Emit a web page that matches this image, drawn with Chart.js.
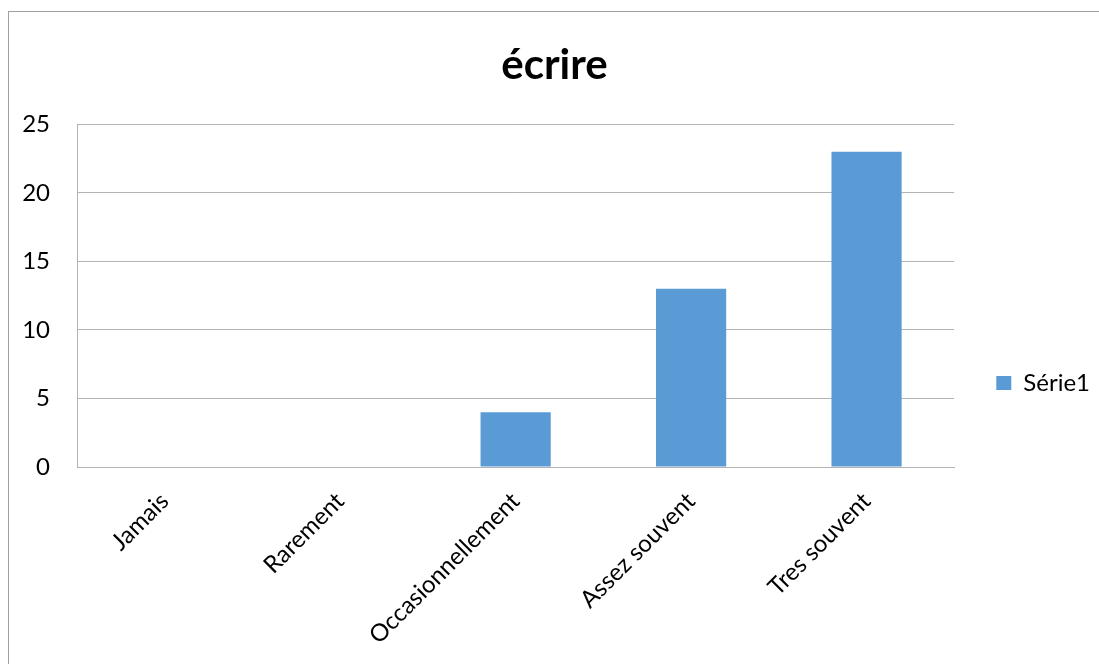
<!DOCTYPE html>
<html lang="fr">
<head>
    <meta charset="UTF-8">
    <title>écrire</title>
    <script src="https://cdn.jsdelivr.net/npm/chart.js"></script>
    <style>
        html, body {
            margin: 0;
            padding: 0;
            background: #fff;
            overflow: hidden;
        }

        .frame {
            position: absolute;
            left: 8px;
            top: 11px;
            width: 1098px;
            height: 742px;
            border: 1px solid #a0a0a0;
        }
    </style>
</head>
<body>
    <div class="frame">
        <canvas id="chart" width="1098" height="742"></canvas>
    </div>

    <script>
        // Données
        const categories = ['Jamais', 'Rarement', 'Occasionnellement', 'Assez souvent', 'Tres souvent'];
        const serie1 = [0, 0, 4, 13, 23];
        const yTicks = [0, 5, 10, 15, 20, 25];

        const gridColor = '#b3b3b3';
        const font = 'Lato, Carlito, Calibri, sans-serif';

        Chart.defaults.font.family = font;
        Chart.defaults.color = '#000';

        new Chart(document.getElementById('chart'), {
            type: 'bar',
            data: {
                labels: categories,
                datasets: [{
                    label: 'Série1',
                    data: serie1,
                    backgroundColor: '#5b9bd5',
                    borderWidth: 0,
                    barPercentage: 0.4,
                    categoryPercentage: 1.0
                }]
            },
            options: {
                responsive: false,
                animation: false,
                layout: {
                    padding: { left: 0, right: 7, top: 0, bottom: 0 }
                },
                plugins: {
                    title: {
                        display: true,
                        text: 'écrire',
                        color: '#000',
                        font: { size: 42, weight: 'bold' },
                        padding: { top: 28, bottom: 34 }
                    },
                    legend: {
                        position: 'right',
                        align: 'center',
                        labels: {
                            boxWidth: 15,
                            boxHeight: 14,
                            padding: 42,
                            color: '#000',
                            font: { size: 24 }
                        }
                    },
                    tooltip: { enabled: false }
                },
                scales: {
                    x: {
                        grid: { display: true, drawOnChartArea: false, drawTicks: false },
                        border: { color: gridColor },
                        ticks: {
                            minRotation: 45,
                            maxRotation: 45,
                            padding: 20,
                            font: { size: 24 }
                        },
                        afterFit: (scale) => { scale.height = 742 - 455; }
                    },
                    y: {
                        min: 0,
                        max: 25,
                        afterBuildTicks: (scale) => {
                            scale.ticks = yTicks.map(v => ({ value: v }));
                        },
                        grid: { color: gridColor, drawTicks: false },
                        border: { color: gridColor },
                        ticks: {
                            padding: 27,
                            font: { size: 24 }
                        },
                        afterFit: (scale) => { scale.width = 68; }
                    }
                }
            }
        });
    </script>
</body>
</html>
